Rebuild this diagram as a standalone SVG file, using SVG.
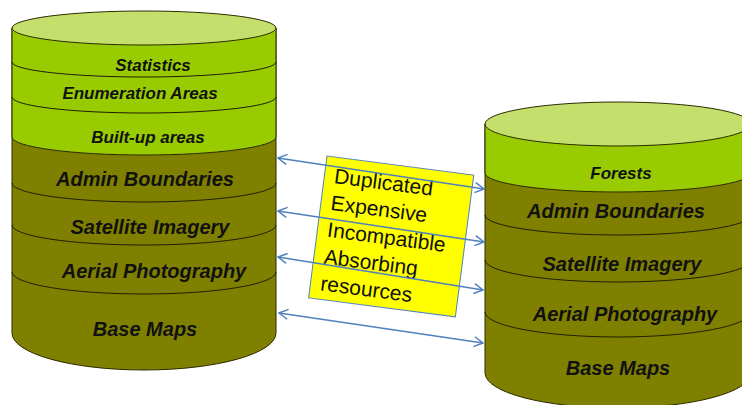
<svg xmlns="http://www.w3.org/2000/svg" width="742" height="405" viewBox="0 0 742 405">
<defs>
<style>
.olive{fill:#808000;stroke:#2b2b00;stroke-width:1}
.green{fill:#99CC00;stroke:#2b2b00;stroke-width:1}
.top{fill:#C4DF6C;stroke:#2b2b00;stroke-width:1}
.arc{fill:none;stroke:#1f1f00;stroke-width:1}
.lbl{font-family:"Liberation Sans",Arial,sans-serif;font-weight:bold;font-style:italic;fill:#111;text-anchor:middle}
.s17{font-size:17px}
.s20{font-size:20px}
.note{font-family:"Liberation Sans",Arial,sans-serif;font-size:21px;fill:#111}
.conn{stroke:#4F81BD;stroke-width:1.5;fill:none;marker-start:url(#ah);marker-end:url(#ah)}
</style>
<marker id="ah" viewBox="-11 -6 12 12" markerWidth="12" markerHeight="12" refX="0" refY="0" orient="auto-start-reverse" markerUnits="userSpaceOnUse">
<path d="M-9,-5 L0,0 L-9,5" fill="none" stroke="#4F81BD" stroke-width="1.5"/>
</marker>
</defs>
<rect width="742" height="405" fill="#ffffff"/>

<g id="left-db">
<path class="olive" d="M12,28 L12,333 A132,37 0 0 0 276,333 L276,28 Z"/>
<path class="green" d="M12,28 L12,137 A132,18 0 0 0 276,137 L276,28 Z"/>
<ellipse class="top" cx="144" cy="28" rx="132" ry="17"/>
<path class="arc" d="M12,62 A132,15 0 0 0 276,62"/>
<path class="arc" d="M12,97 A132,16 0 0 0 276,97"/>
<path class="arc" d="M12,183 A132,19 0 0 0 276,183"/>
<path class="arc" d="M12,225 A132,20 0 0 0 276,225"/>
<path class="arc" d="M12,272 A132,22 0 0 0 276,272"/>
<text class="lbl s17" x="153" y="71">Statistics</text>
<text class="lbl s17" x="140" y="99">Enumeration Areas</text>
<text class="lbl s17" x="148" y="143">Built-up areas</text>
<text class="lbl s20" x="145" y="186">Admin Boundaries</text>
<text class="lbl s20" x="150" y="234">Satellite Imagery</text>
<text class="lbl s20" x="154" y="278">Aerial Photography</text>
<text class="lbl s20" x="145" y="336">Base Maps</text>
</g>

<g id="right-db">
<path class="olive" d="M485,124 L485,373 A133,35 0 0 0 751,373 L751,124 Z"/>
<path class="green" d="M485,124 L485,173 A133,19 0 0 0 751,173 L751,124 Z"/>
<ellipse class="top" cx="618" cy="124" rx="133" ry="22"/>
<path class="arc" d="M485,215 A133,20 0 0 0 751,215" stroke-width="1.6"/>
<path class="arc" d="M485,260 A133,22 0 0 0 751,260"/>
<path class="arc" d="M485,312 A133,25 0 0 0 751,312"/>
<text class="lbl s17" x="621" y="179">Forests</text>
<text class="lbl s20" x="616" y="218">Admin Boundaries</text>
<text class="lbl s20" x="622" y="271">Satellite Imagery</text>
<text class="lbl s20" x="625" y="321">Aerial Photography</text>
<text class="lbl s20" x="618" y="375">Base Maps</text>
</g>

<g id="issues" transform="translate(327,156) rotate(7.4)">
<rect x="0" y="0" width="148" height="143" fill="#FFFF00" stroke="#4F81BD" stroke-width="1"/>
<text class="note" x="10" y="26">Duplicated</text>
<text class="note" x="10" y="53">Expensive</text>
<text class="note" x="10" y="80">Incompatible</text>
<text class="note" x="10" y="107">Absorbing</text>
<text class="note" x="10" y="134">resources</text>
</g>

<g id="connectors">
<line class="conn" x1="278" y1="158" x2="484" y2="189"/>
<line class="conn" x1="278" y1="211" x2="484" y2="242"/>
<line class="conn" x1="278" y1="257" x2="483" y2="290"/>
<line class="conn" x1="279" y1="313" x2="483" y2="343"/>
</g>
</svg>
